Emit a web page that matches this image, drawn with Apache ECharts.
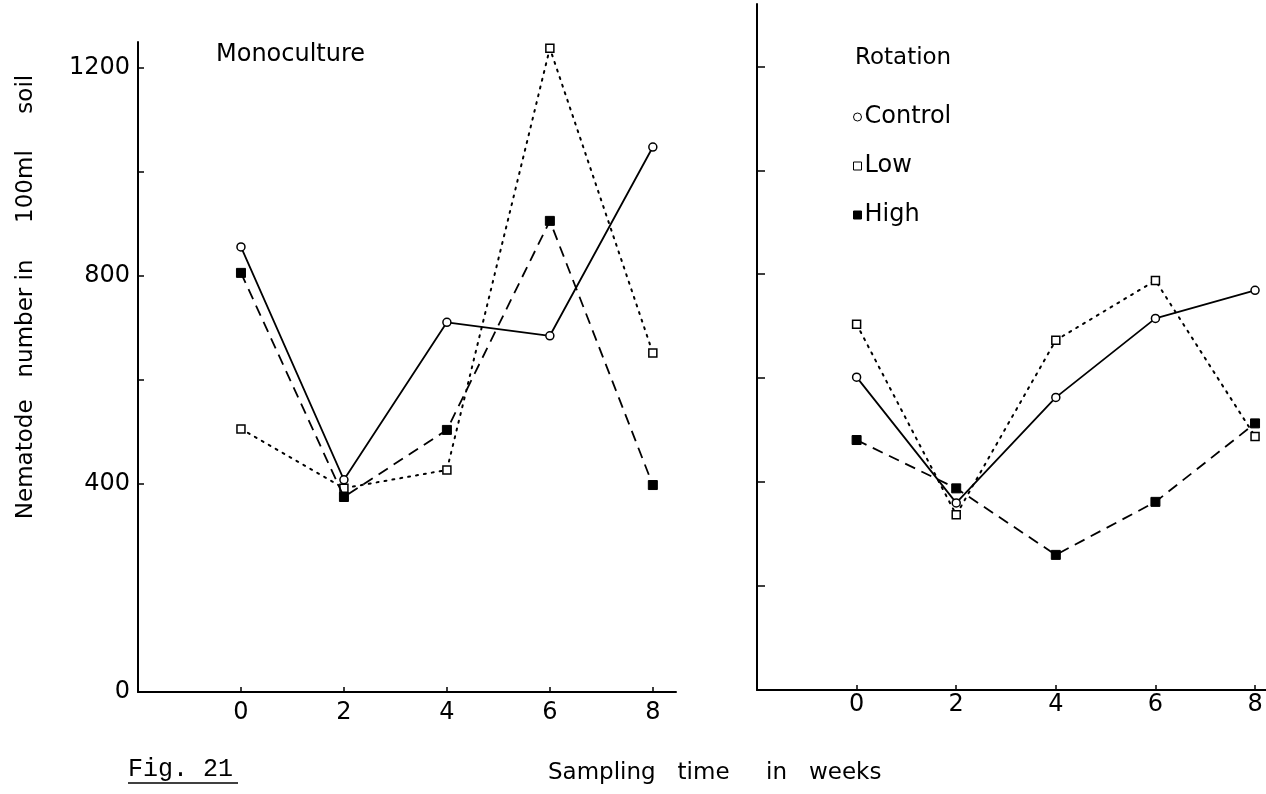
<!DOCTYPE html>
<html>
<head>
<meta charset="utf-8">
<script src="https://cdn.jsdelivr.net/npm/echarts@6/dist/echarts.min.js"></script>
<style>
html,body{margin:0;padding:0;background:#fff;}
#chart{width:1266px;height:794px;}
</style>
</head>
<body>
<div id="chart"></div>
<script>
// ---- data ----
const weeks = [0, 2, 4, 6, 8];
const seriesNames = ['Control', 'Low', 'High'];
const monoControl = [856, 408, 711, 685, 1048];
const monoLow = [506, 392, 427, 1238, 652];
const monoHigh = [806, 375, 504, 906, 398];
const rotControl = [602, 360, 563, 715, 769];
const rotLow = [704, 337, 673, 788, 488];
const rotHigh = [481, 388, 260, 362, 513];
const yLabelValues = [0, 400, 800, 1200];
const monoYTicks = [400, 600, 800, 1000, 1200];
const rotYTicks = [200, 400, 600, 800, 1000, 1200];
const panelTitles = ['Monoculture', 'Rotation'];
const yAxisTitle = 'Nematode   number in     100ml     soil';
const xAxisTitle = 'Sampling   time     in   weeks';
const figLabel = 'Fig. 21';

// ---- styling ----
const FONT = 'DejaVu Sans';
const styles = {
  Control: { symbol: 'circle', symbolSize: 8, itemStyle: { color: '#fff', borderColor: '#000', borderWidth: 1.5 }, lineStyle: { color: '#000', width: 1.8, type: 'solid' } },
  Low: { symbol: 'rect', symbolSize: 8, itemStyle: { color: '#fff', borderColor: '#000', borderWidth: 1.5 }, lineStyle: { color: '#000', width: 2, type: [2, 6], cap: 'round' } },
  High: { symbol: 'rect', symbolSize: 9, itemStyle: { color: '#000', borderColor: '#000', borderWidth: 1 }, lineStyle: { color: '#000', width: 1.8, type: [11, 7] } }
};

function pairs(vals) { return weeks.map((w, i) => [w, vals[i]]); }
function mkSeries(name, vals, idx) {
  const s = styles[name];
  return {
    name: name, type: 'line', xAxisIndex: idx, yAxisIndex: idx,
    data: pairs(vals), symbol: s.symbol, symbolSize: s.symbolSize,
    showAllSymbol: true, itemStyle: s.itemStyle, lineStyle: s.lineStyle,
    emphasis: { disabled: true }, animation: false, z: name === 'High' ? 3 : 2
  };
}

const axisLine = { show: true, onZero: false, lineStyle: { color: '#000', width: 2 } };
const plainNum = v => String(v);

const option = {
  backgroundColor: '#fff',
  animation: false,
  grid: [
    { left: 138, top: 42, width: 538, height: 650 },
    { left: 757, top: 4, width: 509, height: 686 }
  ],
  xAxis: [
    { type: 'value', gridIndex: 0, min: -2, max: 8.45, splitLine: { show: false }, axisLine: axisLine,
      axisTick: { show: true, inside: true, length: 5, customValues: weeks, lineStyle: { color: '#000', width: 1.5 } },
      axisLabel: { customValues: weeks, margin: 9, color: '#000', fontSize: 24, fontFamily: FONT, formatter: plainNum } },
    { type: 'value', gridIndex: 1, min: -2, max: 8.22, splitLine: { show: false }, axisLine: axisLine,
      axisTick: { show: true, inside: true, length: 5, customValues: weeks, lineStyle: { color: '#000', width: 1.5 } },
      axisLabel: { customValues: weeks, margin: 3, color: '#000', fontSize: 24, fontFamily: FONT, formatter: plainNum } }
  ],
  yAxis: [
    { type: 'value', gridIndex: 0, min: 0, max: 1250, splitLine: { show: false }, axisLine: axisLine,
      axisTick: { show: true, inside: true, length: 6, customValues: monoYTicks, lineStyle: { color: '#000', width: 1.5 } },
      axisLabel: { customValues: yLabelValues, margin: 8, color: '#000', fontSize: 24, fontFamily: FONT, formatter: plainNum } },
    { type: 'value', gridIndex: 1, min: 0, max: 1320, splitLine: { show: false }, axisLine: axisLine,
      axisTick: { show: true, inside: true, length: 8, customValues: rotYTicks, lineStyle: { color: '#000', width: 1.5 } },
      axisLabel: { show: false } }
  ],
  legend: {
    orient: 'vertical', left: 853, top: 104, padding: 0, itemGap: 23,
    itemWidth: 8, itemHeight: 8, selectedMode: false,
    textStyle: { color: '#000', fontSize: 24, fontFamily: FONT, lineHeight: 26, padding: [0, 0, 0, -2] },
    data: [
      { name: 'Control', icon: 'circle', itemStyle: { color: '#fff', borderColor: '#000', borderWidth: 1 } },
      { name: 'Low', icon: 'rect', itemStyle: { color: '#fff', borderColor: '#000', borderWidth: 1 } },
      { name: 'High', icon: 'rect', itemStyle: { color: '#000', borderColor: '#000', borderWidth: 1 } }
    ]
  },
  title: [
    { text: panelTitles[0], left: 216, top: 43, padding: 0, textStyle: { color: '#000', fontSize: 24, fontWeight: 'normal', fontFamily: FONT } },
    { text: panelTitles[1], left: 855, top: 47, padding: 0, textStyle: { color: '#000', fontSize: 23, fontWeight: 'normal', fontFamily: FONT } }
  ],
  graphic: [
    { type: 'text', x: 26, y: 297, rotation: Math.PI / 2, style: { text: yAxisTitle, fill: '#000', font: '23px "DejaVu Sans"', align: 'center', verticalAlign: 'middle' } },
    { type: 'text', left: 548, top: 762, style: { text: xAxisTitle, fill: '#000', font: '23px "DejaVu Sans"' } },
    { type: 'text', left: 128, top: 757, style: { text: figLabel, fill: '#000', font: '25px "Liberation Mono"' } },
    { type: 'line', shape: { x1: 128, y1: 783, x2: 238, y2: 783 }, style: { stroke: '#000', lineWidth: 1.5 } }
  ],
  series: [
    mkSeries('Control', monoControl, 0),
    mkSeries('Low', monoLow, 0),
    mkSeries('High', monoHigh, 0),
    mkSeries('Control', rotControl, 1),
    mkSeries('Low', rotLow, 1),
    mkSeries('High', rotHigh, 1)
  ]
};

const chart = echarts.init(document.getElementById('chart'), null, { renderer: 'canvas' });
chart.setOption(option);
</script>
</body>
</html>
